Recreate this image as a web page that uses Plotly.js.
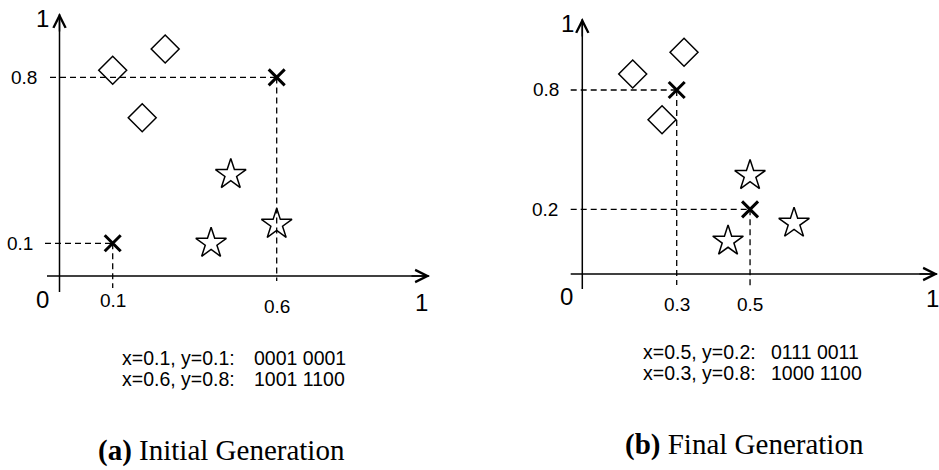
<!DOCTYPE html>
<html>
<head>
<meta charset="utf-8">
<script src="https://cdn.plot.ly/plotly-3.0.1.min.js"></script>
<style>html,body{margin:0;padding:0;background:#fff}#chart{width:939px;height:470px}</style>
</head>
<body>
<div id="chart"></div>
<script>
// ---------- data ----------
const leftDiamondX = [0.10, 0.26, 0.19];
const leftDiamondY = [0.83, 0.92, 0.63];
const leftStarX = [0.46, 0.40, 0.60];
const leftStarY = [0.39, 0.10, 0.18];
const leftCrossX = [0.1, 0.6];
const leftCrossY = [0.1, 0.8];

const rightDiamondX = [0.18, 0.32, 0.26];
const rightDiamondY = [0.88, 0.99, 0.65];
const rightStarX = [0.50, 0.44, 0.62];
const rightStarY = [0.37, 0.04, 0.13];
const rightCrossX = [0.5, 0.3];
const rightCrossY = [0.2, 0.8];

const leftLabels = ['x=0.1, y=0.1:', 'x=0.6, y=0.8:'];
const leftCodes = ['0001 0001', '1001 1100'];
const rightLabels = ['x=0.5, y=0.2:', 'x=0.3, y=0.8:'];
const rightCodes = ['0111 0011', '1000 1100'];
const captionA = ['(a)', 'Initial Generation'];
const captionB = ['(b)', 'Final Generation'];

// ---------- layout geometry ----------
const W = 939, H = 470;
const P = {
  L: {x0: 79.9, sx: 328, y0: 267, sy: 237, dom: [0, 0.5]},
  R: {x0: 566.7, sx: 366.7, y0: 249.1, sy: 198.9, dom: [0.5, 1]}
};
function xr(p) { return [(p.dom[0]*W - p.x0)/p.sx, (p.dom[1]*W - p.x0)/p.sx]; }
function yr(p) { return [(p.y0 - H)/p.sy, p.y0/p.sy]; }

const FONT = 'Liberation Sans, Arial, sans-serif';
const SERIF = 'Liberation Serif, Times New Roman, serif';

function markers(xa, ya, dx, dy, cx, cy, sx, sy) {
  return [
    {x: dx, y: dy, xaxis: xa, yaxis: ya, mode: 'markers', type: 'scatter', cliponaxis: false,
     marker: {symbol: 'diamond-open', size: 21.5, color: '#000', line: {width: 1.5, color: '#000'}}},
    {x: sx, y: sy, xaxis: xa, yaxis: ya, mode: 'markers', type: 'scatter', cliponaxis: false,
     marker: {symbol: 'star-open', size: 23, color: '#000', line: {width: 1.5, color: '#000'}}},
    {x: cx, y: cy, xaxis: xa, yaxis: ya, mode: 'markers', type: 'scatter', cliponaxis: false,
     marker: {symbol: 'x-thin-open', size: 16, color: '#000', line: {width: 3, color: '#000'}}}
  ];
}

const data = [].concat(
  markers('x', 'y', leftDiamondX, leftDiamondY, leftCrossX, leftCrossY, leftStarX, leftStarY),
  markers('x2', 'y2', rightDiamondX, rightDiamondY, rightCrossX, rightCrossY, rightStarX, rightStarY)
);

const shapes = [];
const annotations = [];
function line(xref, yref, x0, y0, x1, y1, dashed) {
  shapes.push({type: 'line', xref: xref, yref: yref, x0: x0, y0: y0, x1: x1, y1: y1,
    line: {color: '#000', width: dashed ? 1.3 : 1.5, dash: dashed ? '6px,4px' : 'solid'}});
}
function arrow(xref, yref, x, y, ax, ay) {
  annotations.push({xref: xref, yref: yref, x: x, y: y, ax: ax, ay: ay, text: '',
    showarrow: true, arrowhead: 5, arrowsize: 1.6, arrowwidth: 1.5, arrowcolor: '#000', standoff: 0, startstandoff: 0});
}
function label(xref, yref, x, y, text, size, xanchor, fam) {
  annotations.push({xref: xref, yref: yref, x: x, y: y, text: text, showarrow: false,
    xanchor: xanchor || 'center', yanchor: 'middle', font: {family: fam || FONT, size: size, color: '#000'}});
}

// ---- left panel axes ----
const L = P.L, R = P.R;
const lAxX = (59.5 - L.x0)/L.sx, lAxY = (L.y0 - 276)/L.sy;
line('x', 'y', lAxX, (L.y0 - 292)/L.sy, lAxX, (L.y0 - 14)/L.sy, false);
line('x', 'y', (47 - L.x0)/L.sx, lAxY, (429 - L.x0)/L.sx, lAxY, false);
arrow('x', 'y', lAxX, (L.y0 - 13)/L.sy, 0, 20);
arrow('x', 'y', (430 - L.x0)/L.sx, lAxY, -20, 0);
// left guides
line('x', 'y', (50 - L.x0)/L.sx, leftCrossY[1], leftCrossX[1], leftCrossY[1], true);
line('x', 'y', leftCrossX[1], leftCrossY[1], leftCrossX[1], (L.y0 - 281)/L.sy, true);
line('x', 'y', (45 - L.x0)/L.sx, leftCrossY[0], leftCrossX[0], leftCrossY[0], true);
line('x', 'y', leftCrossX[0], leftCrossY[0], leftCrossX[0], (L.y0 - 288)/L.sy, true);
// left labels
label('x', 'y', (38.5 - L.x0)/L.sx, leftCrossY[1], String(leftCrossY[1]), 19, 'right');
label('x', 'y', (34.5 - L.x0)/L.sx, leftCrossY[0], String(leftCrossY[0]), 19, 'right');
label('x', 'y', leftCrossX[0], (L.y0 - 300)/L.sy, String(leftCrossX[0]), 19);
label('x', 'y', leftCrossX[1], (L.y0 - 306)/L.sy, String(leftCrossX[1]), 19);
label('x', 'y', (42.7 - L.x0)/L.sx, (L.y0 - 299)/L.sy, '0', 24);
label('x', 'y', (421.7 - L.x0)/L.sx, (L.y0 - 302)/L.sy, '1', 24);
label('x', 'y', (42.7 - L.x0)/L.sx, (L.y0 - 18.5)/L.sy, '1', 24);

// ---- right panel axes ----
const rAxX = (582.3 - R.x0)/R.sx, rAxY = (R.y0 - 274)/R.sy;
line('x2', 'y2', rAxX, (R.y0 - 289)/R.sy, rAxX, (R.y0 - 19)/R.sy, false);
line('x2', 'y2', (570.7 - R.x0)/R.sx, rAxY, (937 - R.x0)/R.sx, rAxY, false);
arrow('x2', 'y2', rAxX, (R.y0 - 18)/R.sy, 0, 20);
arrow('x2', 'y2', (938 - R.x0)/R.sx, rAxY, -20, 0);
// right guides
line('x2', 'y2', (570.7 - R.x0)/R.sx, rightCrossY[1], rightCrossX[1], rightCrossY[1], true);
line('x2', 'y2', rightCrossX[1], rightCrossY[1], rightCrossX[1], (R.y0 - 285)/R.sy, true);
line('x2', 'y2', (570.7 - R.x0)/R.sx, rightCrossY[0], rightCrossX[0], rightCrossY[0], true);
line('x2', 'y2', rightCrossX[0], rightCrossY[0], rightCrossX[0], (R.y0 - 288)/R.sy, true);
// right labels
label('x2', 'y2', (561 - R.x0)/R.sx, rightCrossY[1], String(rightCrossY[1]), 19, 'right');
label('x2', 'y2', (560 - R.x0)/R.sx, rightCrossY[0], String(rightCrossY[0]), 19, 'right');
label('x2', 'y2', rightCrossX[1], (R.y0 - 304)/R.sy, String(rightCrossX[1]), 19);
label('x2', 'y2', rightCrossX[0], (R.y0 - 304)/R.sy, String(rightCrossX[0]), 19);
label('x2', 'y2', (566 - R.x0)/R.sx, (R.y0 - 296.5)/R.sy, '0', 24);
label('x2', 'y2', (932 - R.x0)/R.sx, (R.y0 - 298)/R.sy, '1', 24);
label('x2', 'y2', (567.3 - R.x0)/R.sx, (R.y0 - 23)/R.sy, '1', 24);

// ---- bottom texts ----
function ptext(px, py, text, size, xanchor, fam) {
  label('paper', 'paper', px / W, 1 - py / H, text, size, xanchor, fam);
}
ptext(120, 358.3, leftLabels[0], 19.5, 'left');
ptext(120, 379.3, leftLabels[1], 19.5, 'left');
ptext(251.7, 358.3, leftCodes[0], 19.5, 'left');
ptext(251.7, 379.3, leftCodes[1], 19.5, 'left');
ptext(641, 351.7, rightLabels[0], 19.5, 'left');
ptext(641, 372.7, rightLabels[1], 19.5, 'left');
ptext(769.3, 351.7, rightCodes[0], 19.5, 'left');
ptext(769.3, 372.7, rightCodes[1], 19.5, 'left');
ptext(221.5, 450, '<b>' + captionA[0] + '</b> ' + captionA[1], 29, 'center', SERIF);
ptext(744, 444, '<b>' + captionB[0] + '</b> ' + captionB[1], 29, 'center', SERIF);

const hidden = {visible: false, showgrid: false, zeroline: false, fixedrange: true};
const layout = {
  width: W, height: H,
  margin: {l: 0, r: 0, t: 0, b: 0, pad: 0},
  paper_bgcolor: '#fff', plot_bgcolor: 'rgba(0,0,0,0)',
  showlegend: false,
  xaxis: Object.assign({domain: L.dom, range: xr(L)}, hidden),
  yaxis: Object.assign({domain: [0, 1], range: yr(L)}, hidden),
  xaxis2: Object.assign({domain: R.dom, range: xr(R), anchor: 'y2'}, hidden),
  yaxis2: Object.assign({domain: [0, 1], range: yr(R), anchor: 'x2'}, hidden),
  shapes: shapes,
  annotations: annotations
};
Plotly.newPlot('chart', data, layout, {staticPlot: true, displayModeBar: false});
</script>
</body>
</html>
